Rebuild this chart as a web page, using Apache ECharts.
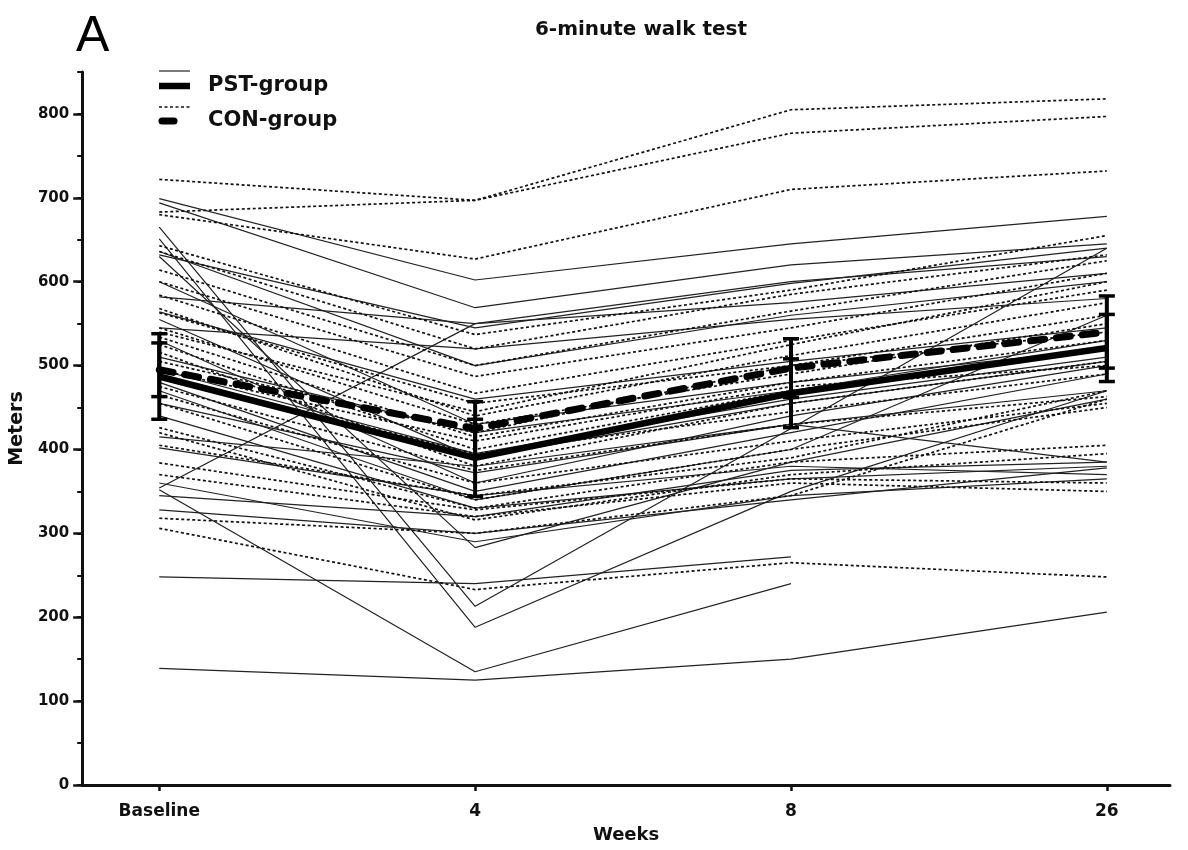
<!DOCTYPE html>
<html>
<head>
<meta charset="utf-8">
<script src="https://cdn.jsdelivr.net/npm/echarts@6/dist/echarts.min.js"></script>
<style>
  html, body { margin: 0; padding: 0; background: #fff; }
  #chart { width: 1188px; height: 850px; }
</style>
</head>
<body>
<div id="chart"></div>
<script>
// Time points (x positions 0..3) and their tick labels
const weekLabels = ['Baseline', '4', '8', '26'];
const yTickValues = [0, 100, 200, 300, 400, 500, 600, 700, 800];

// Individual 6MWT distances (m) per subject: [baseline, week 4, week 8, week 26]
const pstSubjects = [
  [699, 602, 645, 678],
  [694, 569, 620, 645],
  [665, 213, 425, 640],
  [651, 188, 350, 470],
  [636, 500, 560, 600],
  [632, 545, 598, 640],
  [630, 283, 385, 460],
  [600, 430, 480, 520],
  [582, 550, 575, 610],
  [564, 460, 505, 545],
  [555, 390, 455, 505],
  [545, 520, 555, 580],
  [530, 360, 440, 500],
  [510, 420, 470, 530],
  [495, 395, 460, 510],
  [480, 350, 420, 490],
  [470, 340, 400, 560],
  [455, 372, 430, 385],
  [440, 330, 365, 380],
  [415, 380, 430, 470],
  [402, 345, 380, 370],
  [360, 290, 345, 365],
  [354, 550, 600, 630],
  [352, 135, 240, null],
  [328, 300, 340, 378],
  [248, 240, 272, null],
  [139, 125, 150, 206],
  [345, 320, 375, 385]
];

const conSubjects = [
  [722, 697, 805, 818],
  [683, 697, 777, 797],
  [680, 627, 710, 732],
  [643, 537, 590, 655],
  [636, 520, 585, 632],
  [614, 500, 565, 625],
  [600, 487, 545, 610],
  [584, 467, 530, 590],
  [568, 440, 512, 575],
  [563, 455, 500, 560],
  [545, 430, 490, 550],
  [534, 415, 480, 530],
  [525, 400, 470, 520],
  [516, 380, 455, 505],
  [505, 420, 500, 540],
  [495, 410, 475, 500],
  [488, 395, 445, 490],
  [475, 375, 430, 463],
  [465, 360, 410, 455],
  [455, 340, 400, 450],
  [426, 330, 385, 405],
  [420, 316, 370, 395],
  [405, 345, 390, 470],
  [384, 328, 365, 360],
  [370, 320, 360, 350],
  [318, 300, 345, 460],
  [306, 233, 265, 248],
  [540, 445, 525, 600]
];

// Group means and error-bar half widths
const pstMean = [487, 390, 467, 521];
const pstErr  = [51, 46, 41, 40];
const conMean = [495, 425, 497, 540];
const conErr  = [32, 32, 35, 43];

const FONT = '"DejaVu Sans", Verdana, sans-serif';
const FONT_A = '"Liberation Sans", Arial, Helvetica, sans-serif';
const INK = '#111';

function toPoints(values) {
  return values.map((v, i) => [i, v]);
}

const series = [];

pstSubjects.forEach((s, k) => {
  series.push({
    name: 'pst-' + k, type: 'line', data: toPoints(s), symbol: 'none',
    connectNulls: false, silent: true, animation: false, z: 2,
    lineStyle: { color: '#222', width: 1.2, type: 'solid' }
  });
});

conSubjects.forEach((s, k) => {
  series.push({
    name: 'con-' + k, type: 'line', data: toPoints(s), symbol: 'none',
    connectNulls: false, silent: true, animation: false, z: 2,
    lineStyle: { color: '#111', width: 1.7, type: [3, 2.5] }
  });
});

// Mean lines
series.push({
  name: 'PST-group', type: 'line', data: toPoints(pstMean), symbol: 'none',
  animation: false, z: 5,
  lineStyle: { color: '#000', width: 6.5, type: 'solid' }
});
series.push({
  name: 'CON-group', type: 'line', data: toPoints(conMean), symbol: 'none',
  animation: false, z: 5,
  lineStyle: { color: '#000', width: 7, type: [14, 12], cap: 'round' }
});

// Error bars drawn from mean ± err through the axis scales
function errorBarSeries(name, means, errs) {
  const data = means.map((m, i) => [i, m - errs[i], m + errs[i]]);
  return {
    name: name, type: 'custom', animation: false, z: 6,
    data: data,
    renderItem: function (params, api) {
      const x = api.value(0);
      const lo = api.coord([x, api.value(1)]);
      const hi = api.coord([x, api.value(2)]);
      const half = 8;
      return {
        type: 'group',
        children: [
          { type: 'line', shape: { x1: lo[0], y1: lo[1], x2: hi[0], y2: hi[1] }, style: { stroke: '#000', lineWidth: 4 } },
          { type: 'line', shape: { x1: lo[0] - half, y1: lo[1], x2: lo[0] + half, y2: lo[1] }, style: { stroke: '#000', lineWidth: 3.5 } },
          { type: 'line', shape: { x1: hi[0] - half, y1: hi[1], x2: hi[0] + half, y2: hi[1] }, style: { stroke: '#000', lineWidth: 3.5 } }
        ]
      };
    }
  };
}
series.push(errorBarSeries('PST-err', pstMean, pstErr));
series.push(errorBarSeries('CON-err', conMean, conErr));

const chart = echarts.init(document.getElementById('chart'), null, { renderer: 'canvas' });

chart.setOption({
  backgroundColor: '#fff',
  animation: false,
  grid: { left: 82, right: 18, top: 72, bottom: 65, containLabel: false },
  xAxis: {
    type: 'value', min: -0.244, max: 3.2,
    name: 'Weeks', nameLocation: 'middle', nameGap: 41,
    nameTextStyle: { fontFamily: FONT, fontWeight: 'bold', fontSize: 18, color: INK },
    axisLine: { show: true, onZero: false, lineStyle: { color: INK, width: 3 } },
    axisTick: { show: true, customValues: [0, 1, 2, 3], length: 6, lineStyle: { color: INK, width: 2.5 } },
    axisLabel: {
      customValues: [0, 1, 2, 3], margin: 18,
      fontFamily: FONT, fontWeight: 'bold', fontSize: 17, color: INK,
      formatter: v => weekLabels[Math.round(v)]
    },
    splitLine: { show: false }
  },
  yAxis: [
    {
      type: 'value', min: 0, max: 850, interval: 50, position: 'left',
      axisLine: { show: true, onZero: false, lineStyle: { color: INK, width: 3 } },
      axisTick: { show: true, length: 5, lineStyle: { color: INK, width: 2 } },
      axisLabel: { show: false },
      splitLine: { show: false }
    },
    {
      type: 'value', min: 0, max: 850, position: 'left',
      name: 'Meters', nameLocation: 'middle', nameGap: 50, nameRotate: 90,
      nameTextStyle: { fontFamily: FONT, fontWeight: 'bold', fontSize: 19, color: INK },
      axisLine: { show: false, onZero: false },
      axisTick: { show: true, customValues: yTickValues, length: 9, lineStyle: { color: INK, width: 2.5 } },
      axisLabel: {
        customValues: yTickValues, margin: 13,
        fontFamily: FONT, fontWeight: 'bold', fontSize: 15, color: INK
      },
      splitLine: { show: false }
    }
  ],
  series: series,
  graphic: [
    { type: 'text', left: 76, top: 12, style: { text: 'A', font: '50px ' + FONT_A, fill: '#000' } },
    { type: 'text', x: 641, y: 30, style: { text: '6-minute walk test', font: 'bold 20px ' + FONT, fill: INK, textAlign: 'center', textVerticalAlign: 'middle' } },
    // Legend: PST-group (individual line + mean line)
    { type: 'line', shape: { x1: 159, y1: 71, x2: 190, y2: 71 }, style: { stroke: '#222', lineWidth: 1.2 } },
    { type: 'line', shape: { x1: 159, y1: 86, x2: 190, y2: 86 }, style: { stroke: '#000', lineWidth: 6.5 } },
    { type: 'text', x: 208, y: 86, style: { text: 'PST-group', font: 'bold 21px ' + FONT, fill: INK, textVerticalAlign: 'middle' } },
    // Legend: CON-group
    { type: 'line', shape: { x1: 159, y1: 107, x2: 192, y2: 107 }, style: { stroke: '#111', lineWidth: 1.7, lineDash: [3, 2.5] } },
    { type: 'line', shape: { x1: 162, y1: 121, x2: 174, y2: 121 }, style: { stroke: '#000', lineWidth: 7, lineCap: 'round' } },
    { type: 'text', x: 208, y: 121, style: { text: 'CON-group', font: 'bold 21px ' + FONT, fill: INK, textVerticalAlign: 'middle' } }
  ]
});
</script>
</body>
</html>
